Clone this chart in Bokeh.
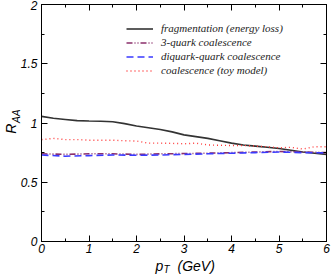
import math
from bokeh.plotting import figure
from bokeh.models import (LinearAxis, SingleIntervalTicker, Label, Range1d)
from bokeh.embed import file_html
from bokeh.resources import INLINE

# ---- data ----
pt_frag = [0, 0.25, 0.5, 0.75, 1, 1.25, 1.5, 1.75, 2, 2.25, 2.5, 2.75, 3,
           3.25, 3.5, 3.75, 4, 4.25, 4.5, 4.75, 5, 5.25, 5.5, 5.75, 6]
raa_frag = [1.056, 1.04, 1.03, 1.02, 1.017, 1.015, 1.01, 0.995, 0.975, 0.96,
            0.945, 0.925, 0.9, 0.885, 0.87, 0.85, 0.83, 0.815, 0.805, 0.795,
            0.785, 0.77, 0.755, 0.745, 0.735]

pt_toy = pt_frag
raa_toy = [0.86, 0.87, 0.86, 0.86, 0.855, 0.855, 0.855, 0.85, 0.848, 0.83,
           0.83, 0.828, 0.825, 0.83, 0.815, 0.812, 0.81, 0.81, 0.805, 0.8,
           0.79, 0.795, 0.78, 0.8, 0.8]

pt_q3 = [0, 0.5, 1, 1.5, 2, 2.5, 3, 3.5, 4, 4.5, 5, 5.5, 6]
raa_q3 = [0.74, 0.735, 0.74, 0.74, 0.735, 0.74, 0.742, 0.745, 0.75, 0.755,
          0.76, 0.755, 0.75]

pt_dq = pt_q3
raa_dq = [0.73, 0.72, 0.725, 0.73, 0.728, 0.73, 0.735, 0.74, 0.745, 0.75,
          0.755, 0.75, 0.748]

labels = ["fragmentation (energy loss)", "3-quark coalescence",
          "diquark-quark coalescence", "coalescence (toy model)"]

x_ticks = [0, 1, 2, 3, 4, 5, 6]
y_ticks = [0, 0.5, 1, 1.5, 2]
x_tick_labels = ["0", "1", "2", "3", "4", "5", "6"]
y_tick_labels = ["0", "0.5", "1", "1.5", "2"]

# ---- layout: the plotting box spans canvas pixels 41..326 (x), 4..241 (y) ----
W, H = 332, 274
box_l, box_r, box_t, box_b = 41, 326, 4, 241
xmin, xmax = x_ticks[0], x_ticks[-1]
ymin, ymax = y_ticks[0], y_ticks[-1]
sx = (box_r - box_l) / (xmax - xmin)
sy = (box_b - box_t) / (ymax - ymin)
x_range = Range1d(xmin - box_l / sx, xmax + (W - box_r) / sx)
y_range = Range1d(ymin - (H - box_b) / sy, ymax + box_t / sy)

p = figure(width=W, height=H, output_backend="svg", toolbar_location=None,
           x_range=x_range, y_range=y_range,
           min_border_left=0, min_border_right=0, min_border_top=0,
           min_border_bottom=0, x_axis_type=None, y_axis_type=None)
p.xgrid.visible = False
p.ygrid.visible = False
p.outline_line_color = None
p.background_fill_color = "white"
p.border_fill_color = "white"


def make_axis(ticks, tick_labels, show_labels, loc, bounds):
    interval = ticks[1] - ticks[0]
    ax = LinearAxis(ticker=SingleIntervalTicker(interval=interval, num_minor_ticks=2),
                    fixed_location=loc, bounds=bounds)
    ax.major_tick_in = 6
    ax.major_tick_out = 0
    ax.minor_tick_in = 3
    ax.minor_tick_out = 0
    ax.axis_line_color = "black"
    ax.axis_line_width = 1
    ax.major_tick_line_color = "black"
    ax.minor_tick_line_color = "black"
    if show_labels:
        ax.major_label_overrides = {t: l for t, l in zip(ticks, tick_labels)}
        ax.major_label_text_font = "Liberation Sans"
        ax.major_label_text_font_style = "italic"
        ax.major_label_text_font_size = "12px"
        ax.major_label_text_color = "black"
    else:
        ax.major_label_overrides = {t: "" for t in ticks}
        ax.major_label_standoff = 0
    return ax


xb = make_axis(x_ticks, x_tick_labels, True, ymin, (xmin, xmax))
xb.major_label_standoff = 2
yl = make_axis(y_ticks, y_tick_labels, True, xmin, (ymin, ymax))
yl.major_label_standoff = 4
p.add_layout(xb, "below")
p.add_layout(yl, "left")
p.add_layout(make_axis(x_ticks, x_tick_labels, False, ymax, (xmin, xmax)), "above")
p.add_layout(make_axis(y_ticks, y_tick_labels, False, xmax, (ymin, ymax)), "right")

# ---- curves ----
p.line(pt_frag, raa_frag, line_color="#333333", line_width=1.6, legend_label=labels[0])
p.line(pt_q3, raa_q3, line_color="#8b2f6b", line_width=1.6, line_dash="6 2 1 2 1 2",
       legend_label=labels[1])
p.line(pt_dq, raa_dq, line_color="#3a3aff", line_width=1.6, line_dash="7 4",
       legend_label=labels[2])
p.line(pt_toy, raa_toy, line_color="#ff3a3a", line_width=1.4, line_dash="1 3",
       legend_label=labels[3])

lg = p.legend[0]
lg.location = (126, 198)
lg.border_line_color = None
lg.background_fill_alpha = 0
lg.label_text_font = "Liberation Serif"
lg.label_text_font_style = "italic"
lg.label_text_font_size = "11px"
lg.label_text_color = "#222222"
lg.label_height = 11
lg.glyph_height = 11
lg.glyph_width = 27
lg.label_standoff = 8
lg.spacing = 2
lg.padding = 2
lg.margin = 0

# ---- axis titles with subscripts (canvas pixels from bottom-left) ----
common = dict(text_font="Liberation Sans", text_font_style="italic",
              text_color="black", text_baseline="alphabetic")
p.add_layout(Label(x=10, y=0.91, x_units="screen", y_units="data", text="R",
                   angle=math.pi / 2, text_font_size="14px", **common))
p.add_layout(Label(x=16, y=1.0, x_units="screen", y_units="data", text="AA",
                   angle=math.pi / 2, text_font_size="10px", **common))
p.add_layout(Label(x=155, y=9, x_units="screen", y_units="screen", text="p",
                   text_font_size="14px", **common))
p.add_layout(Label(x=163, y=5.5, x_units="screen", y_units="screen", text="T",
                   text_font_size="10px", **common))
p.add_layout(Label(x=177, y=9, x_units="screen", y_units="screen", text="(GeV)",
                   text_font_size="14px", **common))

open("out.html", "w").write(file_html(p, INLINE))
